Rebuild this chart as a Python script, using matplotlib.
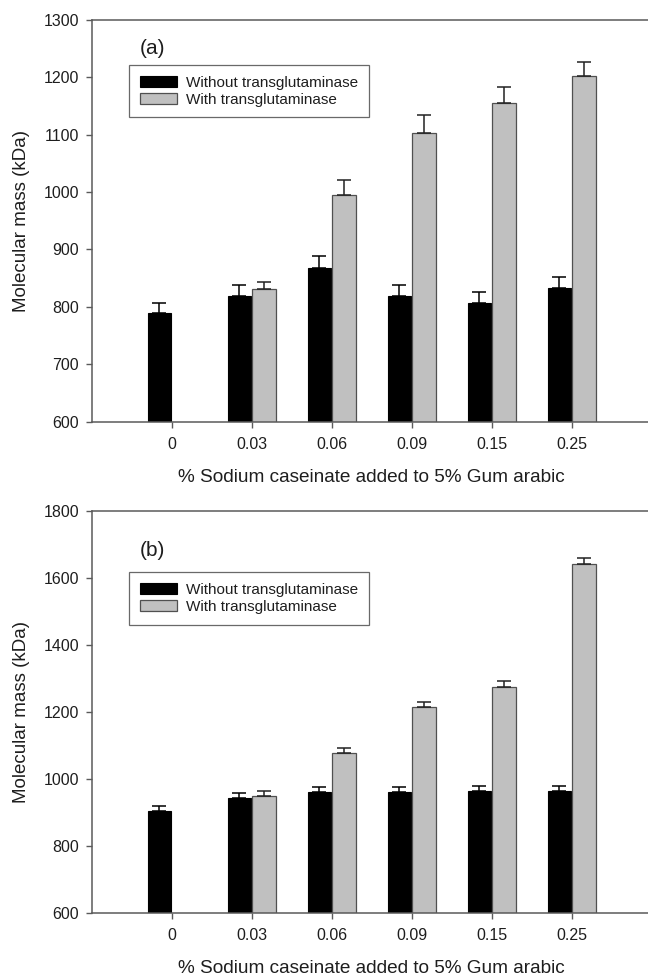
import matplotlib
matplotlib.use("Agg")
import matplotlib.pyplot as plt
import numpy as np

plt.rcParams['font.family'] = ['Liberation Sans', 'DejaVu Sans']

categories = ["0", "0.03", "0.06", "0.09", "0.15", "0.25"]

# Panel (a)
a_without = [790, 819, 867, 819, 806, 833]
a_without_err = [16, 19, 21, 19, 20, 19]
a_with = [np.nan, 832, 995, 1103, 1155, 1202]
a_with_err = [np.nan, 12, 26, 32, 28, 25]

# Panel (b)
b_without = [904, 942, 961, 960, 964, 964]
b_without_err = [15, 14, 15, 15, 15, 15]
b_with = [np.nan, 949, 1076, 1213, 1274, 1640]
b_with_err = [np.nan, 15, 16, 17, 17, 18]

xlabel = "% Sodium caseinate added to 5% Gum arabic"
ylabel = "Molecular mass (kDa)"
legend_labels = ["Without transglutaminase", "With transglutaminase"]

fig = plt.figure(figsize=(6.48, 9.77), dpi=100)
ax1 = fig.add_axes([0.1415, 0.5684, 0.8642, 0.4112])
ax2 = fig.add_axes([0.1415, 0.0658, 0.8642, 0.4115])

spine_col = "#5a5a5a"
gray = "#c0c0c0"
txt = "#1e1e1e"

def panel(ax, wo, wo_err, wi, wi_err, ylim, yticks, tag, leg_y, tag_y, xl_y):
    x = np.arange(len(categories))
    w = 0.29
    off = 0.155
    ax.bar(x - off, wo, w, color="black", edgecolor="black", linewidth=0.8,
           label=legend_labels[0], zorder=2)
    ax.bar(x + off, wi, w, color=gray, edgecolor="#505050", linewidth=0.9,
           label=legend_labels[1], zorder=2)
    ax.errorbar(x - off, wo, yerr=[np.zeros(len(wo)), wo_err], fmt="none",
                ecolor="black", elinewidth=1.1, capsize=4.7, capthick=1.1, zorder=3)
    wi_arr = np.array(wi, dtype=float)
    wi_e = np.array(wi_err, dtype=float)
    mask = ~np.isnan(wi_arr)
    ax.errorbar((x + off)[mask], wi_arr[mask], yerr=[np.zeros(mask.sum()), wi_e[mask]],
                fmt="none", ecolor="#222222", elinewidth=1.1, capsize=4.7, capthick=1.1,
                zorder=3)
    ax.set_xlim(-1.0, 6.0)
    ax.set_ylim(*ylim)
    ax.set_yticks(yticks)
    ax.set_xticks(x)
    ax.set_xticklabels(categories)
    ax.tick_params(axis="both", labelsize=11.5, colors=spine_col, labelcolor=txt,
                   length=4, width=1.0, direction="out")
    ax.tick_params(axis="x", pad=7)
    ax.tick_params(axis="y", pad=5)
    for s in ["left", "bottom", "top"]:
        ax.spines[s].set_color(spine_col)
        ax.spines[s].set_linewidth(1.1)
    ax.spines["right"].set_visible(False)
    ax.set_ylabel(ylabel, fontsize=13.5, color=txt)
    ax.yaxis.set_label_coords(-0.1245, 0.5)
    ax.yaxis.label.set_va("center")
    ax.set_xlabel(xlabel, fontsize=13.7, color=txt)
    ax.xaxis.set_label_coords(0.5, xl_y)
    ax.xaxis.label.set_va("center")
    ax.text(0.086, tag_y, tag, transform=ax.transAxes, fontsize=15,
            va="center", ha="left", color=txt)
    leg = ax.legend(loc="upper left", bbox_to_anchor=(0.067, leg_y), borderaxespad=0,
                    fancybox=False, frameon=True, fontsize=11, handlelength=2.4,
                    handleheight=0.78, labelspacing=0.2, borderpad=0.7,
                    handletextpad=0.6)
    leg.get_frame().set_edgecolor("#444444")
    leg.get_frame().set_linewidth(0.9)
    for t in leg.get_texts():
        t.set_color(txt)

panel(ax1, a_without, a_without_err, a_with, a_with_err,
      (600, 1300), np.arange(600, 1301, 100), "(a)", 0.888, 0.930, -0.140)
panel(ax2, b_without, b_without_err, b_with, b_with_err,
      (600, 1800), np.arange(600, 1801, 200), "(b)", 0.8475, 0.902, -0.1376)

fig.savefig("out.png", dpi=100)
